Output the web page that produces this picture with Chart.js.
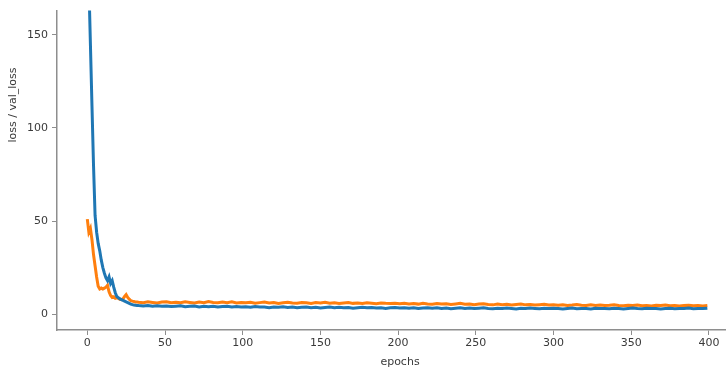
<!DOCTYPE html>
<html>
<head>
<meta charset="utf-8">
<script src="https://cdn.jsdelivr.net/npm/chart.js@4.4.0/dist/chart.umd.min.js"></script>
<style>
  html, body { margin: 0; padding: 0; background: #fff; }
  #wrap { width: 726px; height: 372px; }
</style>
</head>
<body>
<div id="wrap"><canvas id="c"></canvas></div>
<script>
// epochs 0..32 every epoch, then every 3rd epoch up to 399
const epochs = [];
for (let e = 0; e <= 32; e++) epochs.push(e);
for (let e = 33; e <= 399; e += 3) epochs.push(e);

// training loss (blue)
const loss = [
  215, 178, 145, 112, 80, 53, 44, 38, 34, 29, 25, 22, 19.5, 18, 20, 16.5, 18, 14.5, 11.5, 9.5,
  8.8, 8.2, 7.8, 7.4, 7.0, 6.6, 6.2, 5.8, 5.4, 5.1, 4.9, 4.8, 4.7,
  4.6, 4.4, 4.7, 4.3, 4.5, 4.2, 4.4, 4.1, 4.3, 4.5, 4.0, 4.2, 4.4, 3.9, 4.2, 4.0, 4.3, 3.8, 4.1, 4.2, 3.9, 4.1, 3.8,
  4.0, 3.7, 4.1, 3.8, 3.9, 3.5, 3.9, 3.7, 4.0, 3.6, 3.8, 3.4, 3.7, 3.9, 3.5, 3.7, 3.3, 3.6, 3.8, 3.5, 3.7, 3.4, 3.6, 3.2, 3.5, 3.7, 3.4, 3.6, 3.3, 3.5, 3.1, 3.4, 3.6,
  3.3, 3.5, 3.2, 3.4, 3.0, 3.3, 3.5, 3.2, 3.4, 3.1, 3.3, 2.9, 3.2, 3.4, 3.1, 3.3, 3.0, 3.2, 3.4, 3.1, 2.9, 3.2, 3.0, 3.3, 3.1, 2.8, 3.2, 3.0, 3.3, 3.1, 2.9, 3.2, 3.0,
  3.2, 3.0, 2.8, 3.1, 3.3, 2.9, 3.1, 3.0, 2.8, 3.2, 3.0, 3.1, 2.9, 3.2, 3.0, 2.8, 3.1, 3.3, 3.0, 2.9, 3.2, 3.0, 3.1, 2.8, 3.0, 3.2, 2.9, 3.1, 3.0, 3.3, 2.9, 3.1, 3.0, 3.2
];

// validation loss (orange)
const valLoss = [
  51, 44, 46, 40, 32, 26, 20, 15, 13.5, 14, 13.5, 14, 14.5, 15.5, 12, 10, 9, 9.3, 8.5, 8.8,
  8.5, 8, 7.8, 8.2, 9.5, 10.5, 9, 8, 7.3, 7, 6.8, 6.5, 6.5,
  6.4, 6.2, 6.6, 6.3, 6.0, 6.5, 6.7, 6.2, 6.4, 6.1, 6.6, 6.3, 6.0, 6.5, 6.2, 6.8, 6.3, 6.1, 6.5, 6.2, 6.6, 6.0, 6.3,
  6.1, 6.4, 5.9, 6.2, 6.5, 6.0, 6.3, 5.8, 6.1, 6.4, 6.0, 5.9, 6.3, 6.1, 5.8, 6.2, 6.0, 6.4, 5.9, 6.1, 5.7, 6.0, 6.2, 5.8, 6.0, 5.7, 6.1, 5.9, 5.6, 6.0, 5.8, 5.7, 5.9,
  5.6, 5.9, 5.5, 5.7, 5.4, 5.8, 5.5, 5.3, 5.7, 5.4, 5.6, 5.2, 5.5, 5.8, 5.3, 5.5, 5.1, 5.4, 5.6, 5.2, 5.0, 5.4, 5.1, 5.3, 4.9, 5.2, 5.5, 5.0, 5.2, 4.9, 5.1, 5.3, 4.9,
  5.0, 4.8, 5.1, 4.7, 4.9, 5.2, 4.8, 4.6, 5.0, 4.7, 4.9, 4.6, 4.8, 5.1, 4.7, 4.5, 4.8, 4.6, 4.9, 4.5, 4.7, 4.4, 4.8, 4.6, 4.9, 4.5, 4.7, 4.4, 4.6, 4.8, 4.5, 4.7, 4.4, 4.6
];

const xTicks = [0, 50, 100, 150, 200, 250, 300, 350, 400];
const yTicks = [0, 50, 100, 150];

const xTitle = 'epochs';
const yTitle = 'loss / val_loss';

const axisGray = '#8e8e8e';
const textGray = '#3a3a3a';
const font = { family: 'DejaVu Sans', size: 11 };

// axis titles placed where the original puts them
const titlesPlugin = {
  id: 'titles',
  afterDraw(chart) {
    const ctx = chart.ctx;
    ctx.save();
    ctx.fillStyle = textGray;
    ctx.font = '11px "DejaVu Sans"';
    ctx.textAlign = 'center';
    ctx.textBaseline = 'middle';
    ctx.fillText(xTitle, 400, 362);
    ctx.translate(13, 105);
    ctx.rotate(-Math.PI / 2);
    ctx.fillText(yTitle, 0, 0);
    ctx.restore();
  }
};

new Chart(document.getElementById('c'), {
  type: 'line',
  data: {
    datasets: [
      {
        label: 'loss',
        data: epochs.map((e, i) => ({ x: e, y: loss[i] })),
        borderColor: '#1f77b4',
        borderWidth: 3,
        pointRadius: 0,
        tension: 0,
        fill: false
      },
      {
        label: 'val_loss',
        data: epochs.map((e, i) => ({ x: e, y: valLoss[i] })),
        borderColor: '#ff7f0e',
        borderWidth: 3,
        pointRadius: 0,
        tension: 0,
        fill: false
      }
    ]
  },
  options: {
    responsive: true,
    maintainAspectRatio: false,
    animation: false,
    layout: { padding: { top: 8, left: 0, right: 0, bottom: 0 } },
    plugins: {
      legend: { display: false },
      tooltip: { enabled: false }
    },
    scales: {
      x: {
        type: 'linear',
        min: -19.5,
        max: 411,
        afterBuildTicks: (s) => { s.ticks = xTicks.map(v => ({ value: v })); },
        afterFit: (s) => { s.height = 42; },
        border: { color: axisGray, width: 1.5 },
        grid: { drawOnChartArea: false, tickLength: 5, color: axisGray, tickWidth: 1 },
        ticks: { color: textGray, font, padding: 2, maxRotation: 0 }
      },
      y: {
        type: 'linear',
        min: -8.5,
        max: 163,
        afterBuildTicks: (s) => { s.ticks = yTicks.map(v => ({ value: v })); },
        afterFit: (s) => { s.width = 57; },
        border: { color: axisGray, width: 1.5 },
        grid: { drawOnChartArea: false, tickLength: 5, color: axisGray, tickWidth: 1 },
        ticks: { color: textGray, font, padding: 4 }
      }
    }
  },
  plugins: [titlesPlugin]
});
</script>
</body>
</html>
